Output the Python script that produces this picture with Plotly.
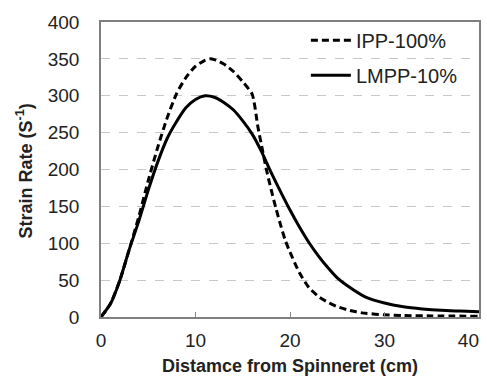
import plotly.graph_objects as go

ipp_x = [0, 1, 2, 3, 4, 5, 6, 7, 8, 9, 10, 11, 11.5, 12, 13, 14, 15, 16, 16.6, 17, 17.5, 18, 18.5, 19, 19.5, 20, 21, 22, 23, 24, 25, 26, 27, 28, 30, 32, 35, 40]
ipp_y = [0, 18, 50, 92, 136, 185, 230, 270, 303, 325, 340, 348, 350, 349, 343, 333, 319, 302, 258, 232, 200, 173, 148, 125, 104, 88, 60, 40, 28, 20, 14, 10, 7, 5, 3, 2, 1.5, 1]

lmpp_x = [0, 1, 2, 3, 4, 5, 6, 7, 8, 9, 10, 11, 12, 13, 14, 15, 16, 17, 18, 19, 20, 21, 22, 23, 24, 25, 26, 28, 30, 32, 34, 36, 38, 40]
lmpp_y = [0, 18, 50, 92, 130, 172, 210, 242, 265, 284, 295, 300, 298, 291, 281, 266, 248, 224, 196, 170, 145, 122, 101, 83, 67, 53, 43, 27, 19, 14, 11, 9, 8, 7]

x_ticks = [0, 10, 20, 30, 40]
x_tick_labels = ["0", "10", "20", "30", "40<span style='color:rgba(0,0,0,0)'>00</span>"]
y_ticks = [0, 50, 100, 150, 200, 250, 300, 350, 400]
y_title = "<b>Strain Rate (S<sup>-1</sup>)</b>"
x_title = "<b>Distamce from Spinneret (cm)</b>"

font = "Liberation Sans, Arial, sans-serif"

fig = go.Figure()
fig.add_trace(go.Scatter(x=ipp_x, y=ipp_y, mode="lines", name="IPP-100%",
                         legendgroup="a",
                         line=dict(color="black", width=3, dash="7px,4px", shape="spline", smoothing=0.6)))
fig.add_trace(go.Scatter(x=lmpp_x, y=lmpp_y, mode="lines", name="LMPP-10%",
                         legendgroup="b",
                         line=dict(color="black", width=3, shape="spline", smoothing=0.6)))

fig.add_annotation(text=y_title, xref="paper", yref="paper", x=-0.201, y=0.493,
                   xanchor="center", yanchor="middle", textangle=-90, showarrow=False,
                   font=dict(size=18, color="#222222", family=font))

fig.update_layout(
    width=487, height=379,
    margin=dict(l=101, r=8, t=22, b=62, autoexpand=False),
    paper_bgcolor="white", plot_bgcolor="white",
    font=dict(family=font, color="#222222"),
    showlegend=True,
    legend=dict(x=0.542, y=1.004, xanchor="left", yanchor="top",
                font=dict(size=20, color="#222222", family=font),
                bgcolor="rgba(0,0,0,0)", tracegroupgap=6,
                traceorder="grouped", itemwidth=40),
    xaxis=dict(range=[0, 40], tickvals=x_ticks, ticktext=x_tick_labels,
               ticks="inside", ticklen=5, automargin=False, ticklabeloverflow="allow",
               tickcolor="#888888", showgrid=False, zeroline=False,
               showline=True, linecolor="#7f7f7f", linewidth=1.5, mirror=True,
               tickfont=dict(size=19, color="#222222"), ticklabelstandoff=5,
               title=dict(text=x_title, font=dict(size=18, color="#222222"), standoff=10)),
    yaxis=dict(range=[0, 400], tickvals=y_ticks, ticks="", showgrid=True, automargin=False,
               gridcolor="#c8c8c8", griddash="dash", gridwidth=1, zeroline=False,
               showline=True, linecolor="#7f7f7f", linewidth=1.5, mirror=True,
               tickfont=dict(size=19, color="#222222"), ticklabelstandoff=16),
)

fig.write_html("out.html", config={"displayModeBar": False},
               post_script="document.body.style.margin='0';")
